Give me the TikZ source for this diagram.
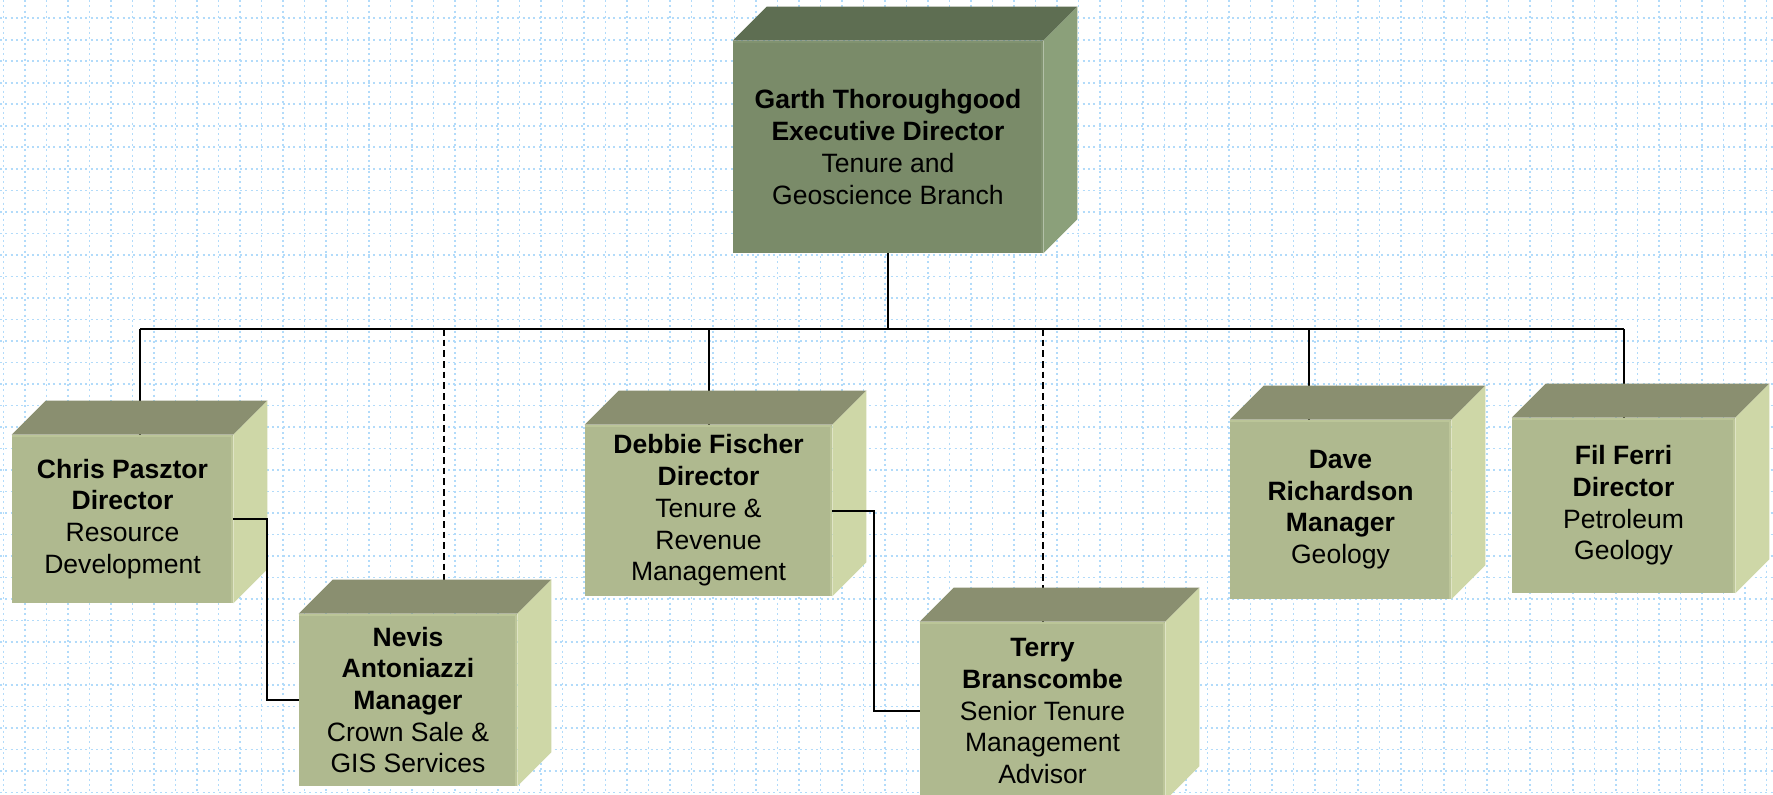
\documentclass[tikz,border=0pt]{standalone}
\usepackage{fontspec}
\setmainfont{Liberation Sans}
\usepackage{tikz}
\usetikzlibrary{calc}

\definecolor{gridblue}{RGB}{178,219,250}
\definecolor{execfront}{RGB}{122,139,105}
\definecolor{exectop}{RGB}{94,110,82}
\definecolor{execside}{RGB}{139,160,122}
\definecolor{unitfront}{RGB}{175,185,143}
\definecolor{unittop}{RGB}{138,143,112}
\definecolor{unitside}{RGB}{206,215,167}

\begin{document}
\begin{tikzpicture}[x=0.75pt,y=0.75pt,yscale=-1,xscale=1,
    orgbox/.style 2 args={rectangle, inner sep=0pt, align=center, minimum width=#1*0.75pt, minimum height=#2*0.75pt, font=\fontsize{19.9}{23.8}\selectfont},
    execbox/.style={fill=execfront},
    unitbox/.style={fill=unitfront},
    gridline/.style={gridblue, line width=1.2pt, dash pattern=on 1.5pt off 2.5pt},
    orgline/.style={line width=1.5pt},
    dotline/.style={line width=1.5pt, dash pattern=on 5pt off 3pt}]
        \useasboundingbox (0,0) rectangle (1773,795);
        \clip (0,0) rectangle (1773,795);
        \fill[white] (0,0) rectangle (1773,795);
        % background grid
        \foreach \gx in {0,...,82} \draw[gridline] ({3.3+21.5*\gx},0) -- ({3.3+21.5*\gx},795);
        \foreach \gy in {1,...,37} \draw[gridline] (0,{-3.2+21.5*\gy}) -- (1773,{-3.2+21.5*\gy});

        % front faces
        \node[orgbox={310}{212}, execbox] (garth) at (888,147) {\textbf{Garth Thoroughgood}\\\textbf{Executive Director}\\Tenure and\\Geoscience Branch};
        \node[orgbox={221}{168}, unitbox] (chris) at (122.5,519) {\textbf{Chris Pasztor}\\\textbf{Director}\\Resource\\Development};
        \node[orgbox={218}{172}, unitbox] (nevis) at (408,700) {\textbf{Nevis}\\\textbf{Antoniazzi}\\\textbf{Manager}\\Crown Sale \&\\GIS Services};
        \node[orgbox={247}{171}, unitbox] (debbie) at (708.5,510.5) {\textbf{Debbie Fischer}\\\textbf{Director}\\Tenure \&\\Revenue\\Management};
        \node[orgbox={245}{178}, unitbox] (terry) at (1042.5,711) {\textbf{Terry}\\\textbf{Branscombe}\\Senior Tenure\\Management\\Advisor};
        \node[orgbox={221}{179}, unitbox] (dave) at (1340.5,509.5) {\textbf{Dave}\\\textbf{Richardson}\\\textbf{Manager}\\Geology};
        \node[orgbox={223}{175}, unitbox] (fil) at (1623.5,505.5) {\textbf{Fil Ferri}\\\textbf{Director}\\Petroleum\\Geology};

        % bus
        \coordinate (busL) at (140,329);
        \coordinate (busR) at (fil.north |- busL);
        \coordinate (daveup) at (1308.5,329);
        \coordinate (nevisup) at (444,329);
        \draw[orgline] (garth.south) -- (garth.south |- busL);
        \draw[orgline] (busL) -- (busR);
        \draw[orgline] (busL) -- (busL |- chris.north);
        \draw[orgline] (debbie.north |- busL) -- (debbie.north);
        \draw[orgline] (daveup) -- (daveup |- dave.north);
        \draw[orgline] (busR) -- (fil.north);
        \draw[dotline] (nevisup) -- (nevisup |- nevis.north);
        \draw[dotline] (terry.north |- busL) -- (terry.north);

        % top and side faces
        \foreach \n/\fr/\tp/\sd in {garth/execfront/exectop/execside, chris/unitfront/unittop/unitside, nevis/unitfront/unittop/unitside, debbie/unitfront/unittop/unitside, terry/unitfront/unittop/unitside, dave/unitfront/unittop/unitside, fil/unitfront/unittop/unitside}{
            \fill[\tp] (\n.north west) -- ++(34,-34) -- ($(\n.north east)+(34,-34)$) -- (\n.north east) -- cycle;
            \fill[\sd] (\n.north east) -- ++(34,-34) -- ($(\n.south east)+(34,-34)$) -- (\n.south east) -- cycle;
            \draw[\fr!55!\sd, line width=1.5pt] ($(\n.north east)+(-1,1)$) -- ($(\n.south east)+(-1,0)$);
            \draw[\fr!60!\sd, line width=1.5pt] ($(\n.north west)+(0,1)$) -- ($(\n.north east)+(-1,1)$);
        }

        % elbows
        \draw[orgline] (chris.east) -- ++(34,0) |- (nevis.west);
        \draw[orgline] (debbie.east) -- ++(42,0) |- (terry.west);
\end{tikzpicture}
\end{document}
